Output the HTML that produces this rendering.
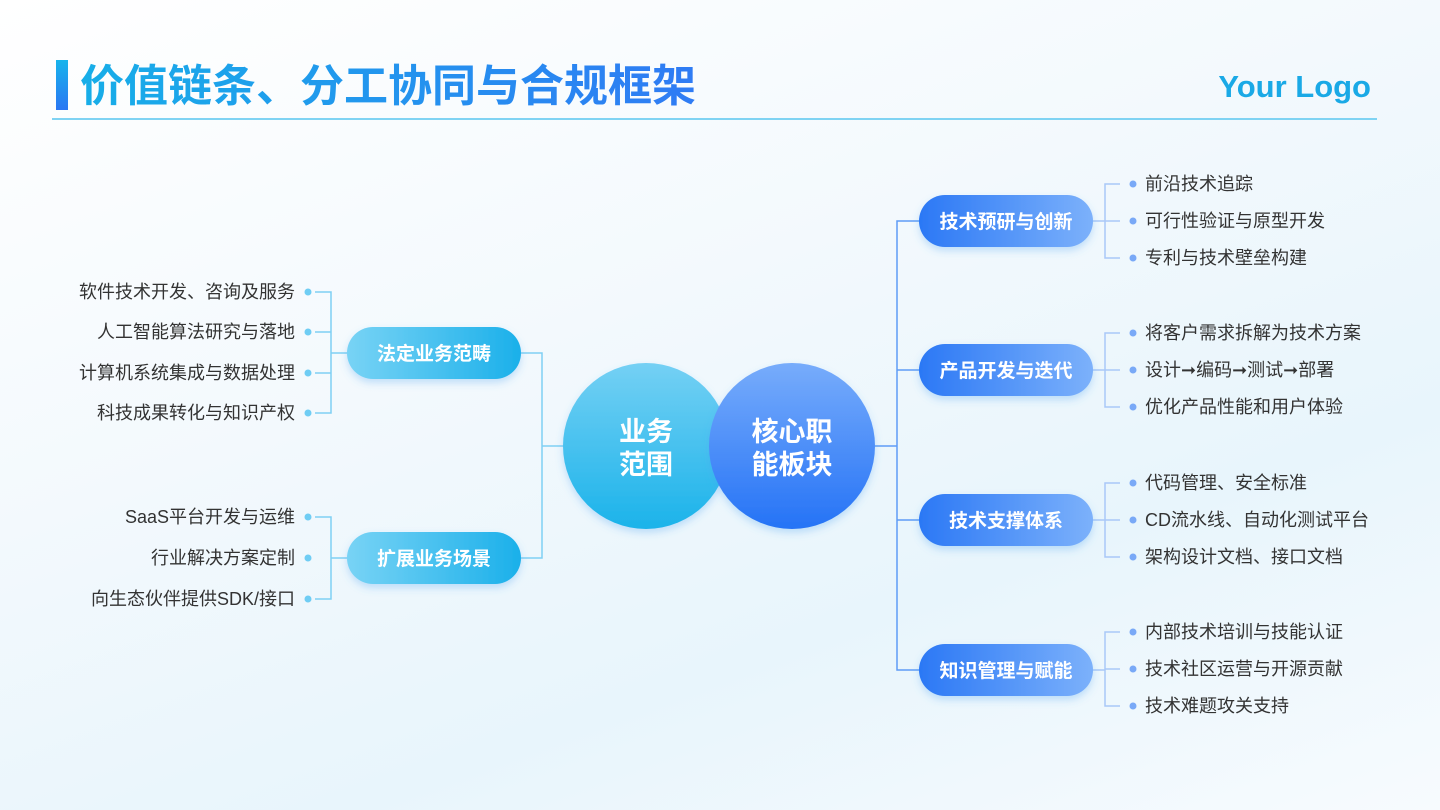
<!DOCTYPE html>
<html><head><meta charset="utf-8"><style>
html,body{margin:0;padding:0}
body{width:1440px;height:810px;overflow:hidden;background:linear-gradient(160deg,#ffffff 0%,#f3f9fd 40%,#e8f5fc 70%,#f7fbfe 100%);font-family:"Liberation Sans","Noto Sans CJK SC",sans-serif;}
svg{position:absolute;left:0;top:0}
</style></head><body>
<svg width="1440" height="810" viewBox="0 0 1440 810" font-family="Liberation Sans, Noto Sans CJK SC, sans-serif">
<defs>
<linearGradient id="tg" x1="0" y1="0" x2="1" y2="0"><stop offset="0" stop-color="#17aee8"/><stop offset="1" stop-color="#2f7bf4"/></linearGradient>
<linearGradient id="bar" x1="0" y1="0" x2="0" y2="1"><stop offset="0" stop-color="#17b4ec"/><stop offset="1" stop-color="#2a77f3"/></linearGradient>
<linearGradient id="c1" x1="0" y1="0" x2="0" y2="1"><stop offset="0" stop-color="#74d0f4"/><stop offset="1" stop-color="#1bb3ea"/></linearGradient>
<linearGradient id="c2" x1="0" y1="0" x2="0" y2="1"><stop offset="0" stop-color="#77acfb"/><stop offset="1" stop-color="#2573f6"/></linearGradient>
<linearGradient id="lp" x1="0" y1="0" x2="1" y2="0"><stop offset="0" stop-color="#78d3f5"/><stop offset="1" stop-color="#1bb0ea"/></linearGradient>
<linearGradient id="rp" x1="0" y1="0" x2="1" y2="0"><stop offset="0" stop-color="#2b78f5"/><stop offset="1" stop-color="#7cb1fb"/></linearGradient>
<filter id="sh" x="-30%" y="-30%" width="160%" height="180%"><feDropShadow dx="0" dy="4" stdDeviation="4" flood-color="#4aa0f0" flood-opacity="0.3"/></filter>
</defs>
<rect x="56" y="60" width="12" height="50" fill="url(#bar)"/>
<text x="80" y="101" font-size="44" font-weight="bold" fill="url(#tg)">价值链条、分工协同与合规框架</text>
<text x="1371" y="97" font-size="31" font-weight="bold" fill="#1aa9e6" text-anchor="end">Your Logo</text>
<rect x="52" y="118" width="1325" height="2" fill="#7fd3f3"/>

<g stroke="#7fd0f3" stroke-width="1.5" fill="none">
<path d="M521 353H542V558H521M542 446H565"/>
<path d="M315 292H331V413H315M315 332H331M315 373H331M331 353H347"/>
<path d="M315 517H331V599H315M331 558H347"/>
</g>
<g fill="#6fcdf4">
<circle cx="308" cy="292" r="3.5"/><circle cx="308" cy="332" r="3.5"/><circle cx="308" cy="373" r="3.5"/><circle cx="308" cy="413" r="3.5"/>
<circle cx="308" cy="517" r="3.5"/><circle cx="308" cy="558" r="3.5"/><circle cx="308" cy="599" r="3.5"/>
</g>
<g font-size="18" fill="#333" text-anchor="end">
<text x="295" y="298">软件技术开发、咨询及服务</text>
<text x="295" y="338">人工智能算法研究与落地</text>
<text x="295" y="379">计算机系统集成与数据处理</text>
<text x="295" y="419">科技成果转化与知识产权</text>
<text x="295" y="523">SaaS平台开发与运维</text>
<text x="295" y="564">行业解决方案定制</text>
<text x="295" y="605">向生态伙伴提供SDK/接口</text>
</g>
<rect x="347" y="327" width="174" height="52" rx="26" fill="url(#lp)" filter="url(#sh)"/>
<rect x="347" y="532" width="174" height="52" rx="26" fill="url(#lp)" filter="url(#sh)"/>
<g font-size="19" font-weight="bold" fill="#fff" text-anchor="middle">
<text x="434" y="360">法定业务范畴</text>
<text x="434" y="565">扩展业务场景</text>
</g>

<g stroke="#5e9cf6" stroke-width="1.5" fill="none">
<path d="M875 446H897M919 221H897V670H919M897 370H919M897 520H919"/>
</g>
<g stroke="#a9c8f8" stroke-width="1.5" fill="none">
<path d="M1093 221H1105M1120 184H1105V258H1120M1105 221H1120"/>
<path d="M1093 370H1105M1120 333H1105V407H1120M1105 370H1120"/>
<path d="M1093 520H1105M1120 483H1105V557H1120M1105 520H1120"/>
<path d="M1093 670H1105M1120 632H1105V706H1120M1105 669H1120"/>
</g>
<g fill="#79a9f7">
<circle cx="1133" cy="184" r="3.5"/><circle cx="1133" cy="221" r="3.5"/><circle cx="1133" cy="258" r="3.5"/>
<circle cx="1133" cy="333" r="3.5"/><circle cx="1133" cy="370" r="3.5"/><circle cx="1133" cy="407" r="3.5"/>
<circle cx="1133" cy="483" r="3.5"/><circle cx="1133" cy="520" r="3.5"/><circle cx="1133" cy="557" r="3.5"/>
<circle cx="1133" cy="632" r="3.5"/><circle cx="1133" cy="669" r="3.5"/><circle cx="1133" cy="706" r="3.5"/>
</g>
<g font-size="18" fill="#333">
<text x="1145" y="190">前沿技术追踪</text>
<text x="1145" y="227">可行性验证与原型开发</text>
<text x="1145" y="264">专利与技术壁垒构建</text>
<text x="1145" y="339">将客户需求拆解为技术方案</text>
<text x="1145" y="376">设计➞编码➞测试➞部署</text>
<text x="1145" y="413">优化产品性能和用户体验</text>
<text x="1145" y="489">代码管理、安全标准</text>
<text x="1145" y="526">CD流水线、自动化测试平台</text>
<text x="1145" y="563">架构设计文档、接口文档</text>
<text x="1145" y="638">内部技术培训与技能认证</text>
<text x="1145" y="675">技术社区运营与开源贡献</text>
<text x="1145" y="712">技术难题攻关支持</text>
</g>
<g filter="url(#sh)" fill="url(#rp)">
<rect x="919" y="195" width="174" height="52" rx="26"/>
<rect x="919" y="344" width="174" height="52" rx="26"/>
<rect x="919" y="494" width="174" height="52" rx="26"/>
<rect x="919" y="644" width="174" height="52" rx="26"/>
</g>
<g font-size="19" font-weight="bold" fill="#fff" text-anchor="middle">
<text x="1006" y="228">技术预研与创新</text>
<text x="1006" y="377">产品开发与迭代</text>
<text x="1006" y="527">技术支撑体系</text>
<text x="1006" y="677">知识管理与赋能</text>
</g>

<circle cx="646" cy="446" r="83" fill="url(#c1)" filter="url(#sh)"/>
<circle cx="792" cy="446" r="83" fill="url(#c2)" filter="url(#sh)"/>
<g font-size="27" font-weight="bold" fill="#fff" text-anchor="middle">
<text x="646" y="441">业务</text>
<text x="646" y="474">范围</text>
<text x="792" y="441">核心职</text>
<text x="792" y="474">能板块</text>
</g>
</svg>
</body></html>
